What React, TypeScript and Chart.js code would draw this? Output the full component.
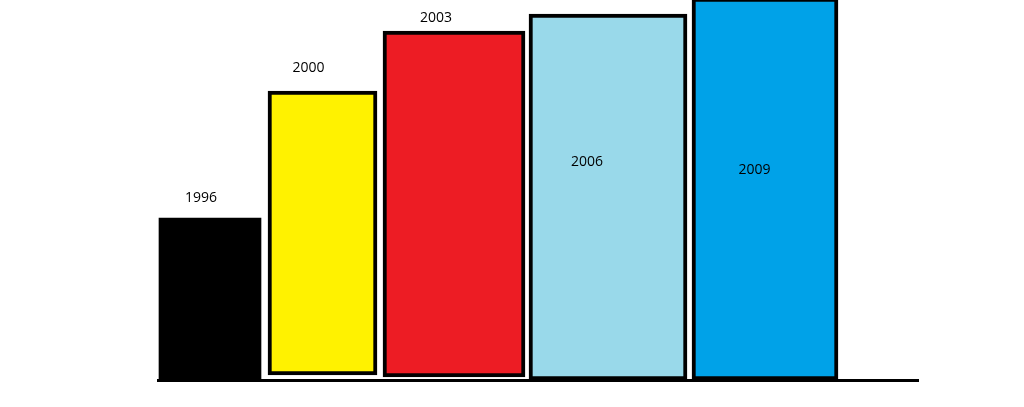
import React, { useEffect, useRef } from "react";
import { Chart, registerables } from "chart.js";

Chart.register(...registerables);

// ---- data (axis units; no ticks shown in the reference) ----
const years = ["1996", "2000", "2003", "2006", "2009"];
const barCenters = [52, 164.5, 296, 450, 607];
const barTops = [162, 289, 349, 366, 382];
const barBases = [0, 5, 3, 0, 0];

// ---- styles ----
const fillColors = ["#000000", "#FFF200", "#ED1C24", "#99D9EA", "#00A2E8"];
const barWidthsPx = [102, 109, 142, 158, 146];
const borderWidthsPx = [0, 4, 4, 4, 4];
const labelDx = [-9, -14, -18, -21, -10.5];
const labelDy = [-20, -23, -13, 148, 170];

const labelPlugin = {
  id: "yearLabels",
  afterDatasetsDraw(chart: any) {
    const { ctx, scales } = chart;
    ctx.save();
    ctx.font = '14px "Open Sans"';
    ctx.fillStyle = "#000000";
    ctx.textAlign = "center";
    ctx.textBaseline = "middle";
    years.forEach((y, i) => {
      const px = scales.x.getPixelForValue(barCenters[i]) + labelDx[i];
      const py = Math.max(scales.y.getPixelForValue(barTops[i]), 0) + labelDy[i];
      ctx.fillText(y, px, py);
    });
    ctx.restore();
  },
};

export default function App() {
  const ref = useRef<HTMLCanvasElement | null>(null);
  useEffect(() => {
    if (!ref.current) return;
    const chart = new Chart(ref.current, {
      type: "bar",
      data: {
        datasets: years.map((label, i) => ({
          label,
          data: [{ x: barCenters[i], y: [barBases[i], barTops[i]] }] as any,
          backgroundColor: fillColors[i],
          borderColor: "#000000",
          borderWidth: borderWidthsPx[i],
          borderSkipped: false,
          barThickness: barWidthsPx[i],
          grouped: false,
        })),
      },
      options: {
        responsive: false,
        animation: false,
        devicePixelRatio: 1,
        layout: { padding: { left: 158, right: 106, top: 0, bottom: 27 } },
        plugins: { legend: { display: false }, tooltip: { enabled: false } },
        scales: {
          x: {
            type: "linear",
            min: 0,
            max: 760,
            offset: false,
            grid: { display: false, drawTicks: false },
            ticks: { display: false },
            border: { display: true, color: "#000000", width: 3 },
          },
          y: {
            display: false,
            min: 0,
            max: 380,
          },
        },
      },
      plugins: [labelPlugin],
    });
    return () => chart.destroy();
  }, []);
  return (
    <div style={{ position: "absolute", left: 0, top: 0, width: 1024, height: 407, background: "#ffffff" }}>
      <canvas ref={ref} width={1024} height={407} style={{ display: "block" }} />
    </div>
  );
}
